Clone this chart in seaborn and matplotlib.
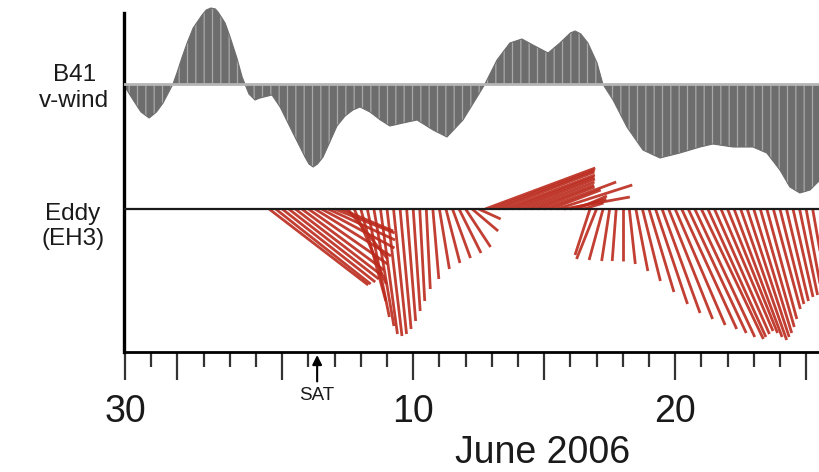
import numpy as np
import pandas as pd
import matplotlib
matplotlib.use("Agg")
import matplotlib.pyplot as plt
import matplotlib.dates as mdates
from matplotlib.collections import LineCollection
from matplotlib.ticker import FuncFormatter
import seaborn as sns

# ---------------- data ----------------
origin = pd.Timestamp("2006-05-30")

# B41 v-wind (positive = northward), time in days after 30 May 2006 (plot units)
wind_day = [0.00, 0.31, 0.61, 0.92, 1.20, 1.45, 1.83, 1.98, 2.18, 2.37, 2.60, 2.94,
            3.10, 3.28, 3.45, 3.55, 3.82, 4.01, 4.27, 4.47, 4.73, 4.96, 5.15, 5.61, 5.92, 6.41,
            6.87, 7.02, 7.18, 7.35, 7.56, 8.09, 8.40, 8.70, 8.97, 9.35, 9.75, 10.11, 10.61, 11.15,
            11.76, 12.29, 12.90, 13.44, 13.74, 14.20, 14.69, 15.15, 15.57, 16.15, 16.60,
            17.00, 17.18, 17.40, 17.67, 18.02, 18.24, 18.63, 19.16, 19.77, 20.42, 21.18, 21.95, 22.44,
            23.21, 23.97, 24.50, 25.00, 25.38, 25.76, 26.15, 26.53]
wind_v = [-3, -16, -28, -34, -28, -19, 0, 11, 27, 41, 56, 69,
          74, 76, 75, 72, 61, 47, 26, 7, -10, -16, -14, -11, -23, -49,
          -73, -80, -83, -80, -73, -42, -32, -26, -23, -28, -36, -42, -39, -36,
          -46, -53, -36, -13, 0, 24, 41, 45, 39, 31, 41,
          51, 53, 50, 41, 21, 0, -16, -43, -66, -74, -69, -63, -60,
          -63, -63, -69, -86, -103, -109, -106, -96]

# Eddy EH3 current sticks, 6-hourly from 4 June 12:00 (east / north components)
eddy_start = pd.Timestamp("2006-06-04 12:00")
eddy_u = [99, 95, 93, 90, 86, 82, 79, 76, 73, 67, 60, 52, 40, 32, 25, 22, 20, 17, 15, 13,
          11, 9, 7, 5, 4, 6, 10, 14, 18, 22, 25, 26, 22,
          110, 103, 96, 90, 83, 77, 70, 63, 57, 72, 50, 75, 66, 36, 30, 20,
          -15, -20, -14, -8, -4, 0, 6, 12, 18, 25, 32, 38, 44, 50, 55, 58, 60, 62, 58, 55,
          52, 50, 48, 46, 42, 38, 34, 30, 27, 24, 22, 20, 18, 16, 15]
eddy_v = [-76, -75, -73, -70, -66, -61, -55, -47, -39, -31, -24, -22, -50, -75, -92, -108,
          -117, -125, -127, -125, -120, -112, -102, -92, -80, -70, -60, -54, -49, -44, -38, -22, -10,
          41, 39, 37, 34, 32, 30, 27, 24, 22, 27, 19, 24, 12, 10, 13, 6,
          -46, -50, -51, -52, -52, -52, -55, -62, -72, -83, -95, -104, -110, -116, -120, -124,
          -128, -130, -128, -125, -122, -124, -128, -131, -128, -124, -118, -110, -100, -95,
          -92, -88, -86, -86, -86]

long_tick_days = [30, 1, 5, 10, 15, 20, 25]
labeled_days = [30, 10, 20]
x_title = "June 2006"
wind_label = ["B41", "v-wind"]
eddy_label = ["Eddy", "(EH3)"]
sat_time = pd.Timestamp("2006-06-06 08:00")
sat_label = "SAT"

# ---------------- style ----------------
sns.set_theme(style="ticks")
plt.rcParams["font.family"] = ["Liberation Sans", "DejaVu Sans"]
plt.rcParams["hatch.linewidth"] = 0.9
plt.rcParams["hatch.color"] = "#a8a8a8"

W, H, DPI = 820, 472, 100
fig = plt.figure(figsize=(W / DPI, H / DPI), dpi=DPI)
L, R, B, T = 124, 820, 352, 13
ax = fig.add_axes([L / W, 1 - B / H, (R - L) / W, (B - T) / H])

t0 = mdates.date2num(origin)
x0, x1 = t0 - 0.04, t0 + 26.53
ax.set_xlim(x0, x1)
ax.set_ylim(0, B - T)          # vertical units = pixels
wind_base = B - 84
eddy_base = B - 209

# ---- wind panel ----
wind_t = t0 + np.array(wind_day)
wind_y = wind_base + np.array(wind_v)
ax.fill_between(wind_t, wind_base, wind_y, facecolor="#6d6d6d", edgecolor="#a8a8a8",
                hatch="||", linewidth=0, interpolate=True, zorder=1, clip_on=False)
sns.lineplot(x=wind_t, y=wind_y, color="#6d6d6d", linewidth=0.8, ax=ax, zorder=1, clip_on=False)
ax.axhline(wind_base, color="#b5b5b5", lw=2, zorder=3)

# ---- eddy sticks ----
t_eddy = mdates.date2num(pd.date_range(eddy_start, periods=len(eddy_u), freq="6h"))
ppd = (R - L) / (x1 - x0)   # pixels per day
segs = [[(t, eddy_base), (t + u / ppd, eddy_base + v)] for t, u, v in zip(t_eddy, eddy_u, eddy_v)]
ax.add_collection(LineCollection(segs, colors="#bb2a1d", linewidths=2.0, alpha=0.9, zorder=2))
ax.axhline(eddy_base, color="#1a1a1a", lw=1.6, zorder=3)

# ---- axes ----
ax.xaxis.set_major_locator(mdates.DayLocator(bymonthday=long_tick_days))
ax.xaxis.set_minor_locator(mdates.DayLocator())


def fmt(x, pos):
    d = mdates.num2date(round(x)).day
    return str(d) if d in labeled_days else ""


ax.xaxis.set_major_formatter(FuncFormatter(fmt))
ax.tick_params(axis="x", which="major", bottom=True, direction="out", length=20, width=1.6,
               color="#333333", labelsize=27, pad=10, labelcolor="#1a1a1a")
ax.tick_params(axis="x", which="minor", bottom=True, direction="out", length=11, width=1.6,
               color="#333333")
ax.set_yticks([])
for s in ["top", "right"]:
    ax.spines[s].set_visible(False)
ax.spines["left"].set_linewidth(2.4)
ax.spines["left"].set_color("black")
ax.spines["bottom"].set_linewidth(2.0)
ax.spines["bottom"].set_color("black")

ax.set_xlabel(x_title, fontsize=27, color="#1a1a1a")
ax.xaxis.set_label_coords((543 - L) / (R - L), (B - 435) / (B - T))


def px(x, y):
    return x / W, 1 - y / H


fig.text(*px(75, 81), wind_label[0], ha="center", va="baseline", fontsize=17.5, color="#1a1a1a")
fig.text(*px(74, 107), wind_label[1], ha="center", va="baseline", fontsize=17.5, color="#1a1a1a")
fig.text(*px(73, 220), eddy_label[0], ha="center", va="baseline", fontsize=17.5, color="#1a1a1a")
fig.text(*px(73, 245), eddy_label[1], ha="center", va="baseline", fontsize=17.5, color="#1a1a1a")

ax.annotate(sat_label, xy=(mdates.date2num(sat_time), -3), xytext=(mdates.date2num(sat_time), -44),
            ha="center", va="center", fontsize=13.5, color="#1a1a1a", annotation_clip=False,
            arrowprops=dict(arrowstyle="-|>", color="black", lw=1.5, mutation_scale=14,
                            shrinkA=2, shrinkB=0))

fig.savefig("out.png", dpi=DPI)
